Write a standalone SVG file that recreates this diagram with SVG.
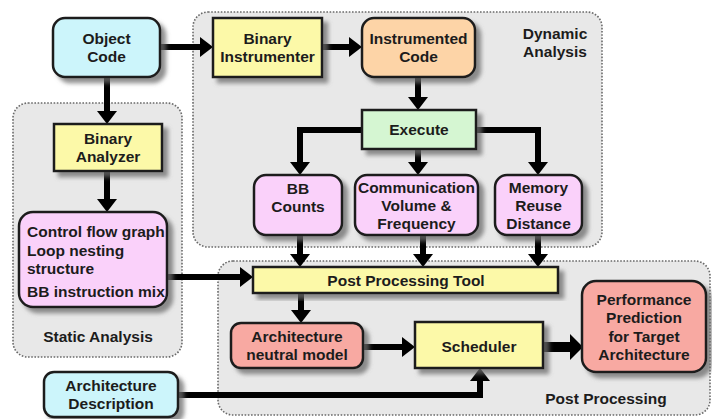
<svg xmlns="http://www.w3.org/2000/svg" width="712" height="419" viewBox="0 0 712 419">
<style>
.region{fill:#e8e8e8;stroke:#6a6a6a;stroke-width:1.6;stroke-dasharray:1.6 1.6}
.box{stroke:#1e1e1e;stroke-width:2.5;filter:url(#sh)}
.cyan{fill:#ccf5fb}.yellow{fill:#fcf9a8}.orange{fill:#fdd4a7}.green{fill:#d5f6d2}.pink{fill:#fad1fa}.salmon{fill:#f8a9a2}
text{font-family:"Liberation Sans",Arial,sans-serif;font-weight:bold;font-size:15.5px;fill:#1c1c1c}
.c{text-anchor:middle}
.conn path{fill:none;stroke:#000;stroke-width:6;stroke-linejoin:miter}
.conn path.thick{stroke-width:10}
</style>
<defs>
<filter id="sh" x="-20%" y="-20%" width="150%" height="150%">
<feDropShadow dx="5" dy="5" stdDeviation="2" flood-color="#6a6a6a" flood-opacity="0.75"/>
</filter>
<marker id="ah" viewBox="0 0 13 20" refX="0" refY="10" markerWidth="13" markerHeight="20" markerUnits="userSpaceOnUse" orient="auto">
<path d="M0,0 L13,10 L0,20 Z" fill="#000"/>
</marker>
<marker id="ahb" viewBox="0 0 13 26" refX="0" refY="13" markerWidth="13" markerHeight="26" markerUnits="userSpaceOnUse" orient="auto">
<path d="M0,0 L13,13 L0,26 Z" fill="#000"/>
</marker>
</defs>
<rect width="712" height="419" fill="#ffffff"/>

<g id="regions">
<g id="dynamic-analysis">
<rect class="region" x="193" y="12" width="409" height="235" rx="15"/>
<text class="c" x="555" y="39">Dynamic</text>
<text class="c" x="555" y="57">Analysis</text>
</g>
<g id="static-analysis">
<rect class="region" x="13" y="103" width="169" height="254" rx="15"/>
<text class="c" x="98" y="342">Static Analysis</text>
</g>
<g id="post-processing">
<rect class="region" x="218" y="261" width="492" height="154" rx="15"/>
<text class="c" x="606" y="404">Post Processing</text>
</g>
</g>

<g id="connectors" class="conn">
<path d="M160,47 H200" marker-end="url(#ah)"/>
<path d="M322,47 H349" marker-end="url(#ah)"/>
<path d="M107,77 V111" marker-end="url(#ah)"/>
<path d="M418,77 V97" marker-end="url(#ah)"/>
<path d="M107,171 V199" marker-end="url(#ah)"/>
<path d="M362,130 H300 V162" marker-end="url(#ah)"/>
<path d="M418,149 V162" marker-end="url(#ah)"/>
<path d="M476,130 H538 V162" marker-end="url(#ah)"/>
<path d="M300,235 V254" marker-end="url(#ah)"/>
<path d="M423,235 V254" marker-end="url(#ah)"/>
<path d="M538,235 V254" marker-end="url(#ah)"/>
<path d="M167,277 H240" marker-end="url(#ah)"/>
<path d="M301,293 V310" marker-end="url(#ah)"/>
<path d="M363,347 H402" marker-end="url(#ah)"/>
<path class="thick" d="M543,347 H570" marker-end="url(#ahb)"/>
<path d="M178,395 H480 V381" marker-end="url(#ah)"/>
</g>

<g id="object-code">
<rect class="box cyan" x="53" y="18" width="107" height="59" rx="12"/>
<text class="c" x="106.5" y="44">Object</text>
<text class="c" x="106.5" y="62">Code</text>
</g>
<g id="binary-instrumenter">
<rect class="box yellow" x="213" y="18" width="109" height="59"/>
<text class="c" x="267.5" y="44">Binary</text>
<text class="c" x="267.5" y="62">Instrumenter</text>
</g>
<g id="instrumented-code">
<rect class="box orange" x="362" y="18" width="113" height="59" rx="12"/>
<text class="c" x="418.5" y="44">Instrumented</text>
<text class="c" x="418.5" y="62">Code</text>
</g>
<g id="execute">
<rect class="box green" x="362" y="110" width="114" height="39"/>
<text class="c" x="419" y="135">Execute</text>
</g>
<g id="bb-counts">
<rect class="box pink" x="254" y="175" width="88" height="60" rx="12"/>
<text class="c" x="298" y="193.5">BB</text>
<text class="c" x="298" y="211.5">Counts</text>
</g>
<g id="communication">
<rect class="box pink" x="355" y="175" width="123" height="60" rx="12"/>
<text class="c" x="416.5" y="192.5">Communication</text>
<text class="c" x="416.5" y="210.5">Volume &amp;</text>
<text class="c" x="416.5" y="228.5">Frequency</text>
</g>
<g id="memory-reuse">
<rect class="box pink" x="495" y="175" width="87" height="60" rx="12"/>
<text class="c" x="538.5" y="192.5">Memory</text>
<text class="c" x="538.5" y="210.5">Reuse</text>
<text class="c" x="538.5" y="228.5">Distance</text>
</g>
<g id="binary-analyzer">
<rect class="box yellow" x="54" y="124" width="108" height="47"/>
<text class="c" x="108" y="143.5">Binary</text>
<text class="c" x="108" y="161.5">Analyzer</text>
</g>
<g id="static-info">
<rect class="box pink" x="19" y="212" width="148" height="95" rx="14"/>
<text x="27" y="237">Control flow graph</text>
<text x="27" y="256">Loop nesting</text>
<text x="27" y="274">structure</text>
<text x="27" y="297">BB instruction mix</text>
</g>
<g id="post-processing-tool">
<rect class="box yellow" x="253" y="267" width="305" height="26"/>
<text class="c" x="406" y="285.5">Post Processing Tool</text>
</g>
<g id="architecture-neutral-model">
<rect class="box salmon" x="231" y="323" width="132" height="45" rx="10"/>
<text class="c" x="297" y="342">Architecture</text>
<text class="c" x="297" y="360">neutral model</text>
</g>
<g id="scheduler">
<rect class="box yellow" x="415" y="322" width="128" height="46"/>
<text class="c" x="479" y="352">Scheduler</text>
</g>
<g id="performance-prediction">
<rect class="box salmon" x="582" y="281" width="124" height="91" rx="14"/>
<text class="c" x="644" y="305">Performance</text>
<text class="c" x="644" y="323">Prediction</text>
<text class="c" x="644" y="342">for Target</text>
<text class="c" x="644" y="360">Architecture</text>
</g>
<g id="architecture-description">
<rect class="box cyan" x="44" y="372" width="134" height="45" rx="10"/>
<text class="c" x="111" y="391">Architecture</text>
<text class="c" x="111" y="409">Description</text>
</g>
</svg>
